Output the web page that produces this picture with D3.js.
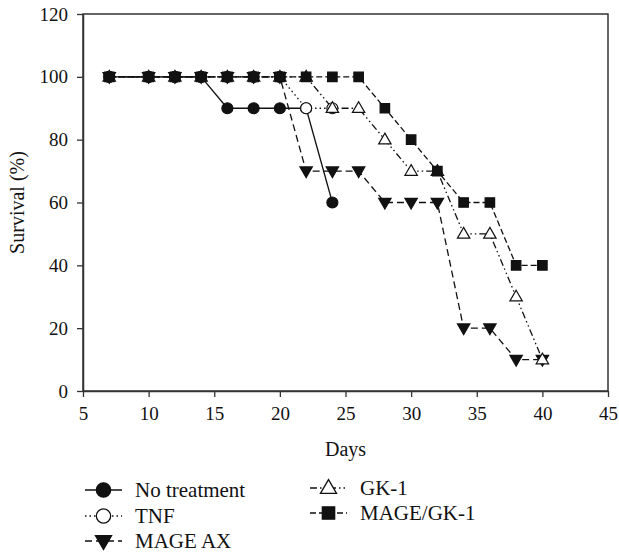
<!DOCTYPE html>
<html>
<head>
<meta charset="utf-8">
<script src="https://cdn.jsdelivr.net/npm/d3@7"></script>
<style>
  body { margin: 0; background: #fff; }
  svg text { font-family: "Liberation Serif", "Times New Roman", "DejaVu Serif", serif !important; fill: #111; }
</style>
</head>
<body>
<svg id="chart" width="619" height="554"></svg>
<script>
// survival data
var days = [7, 10, 12, 14, 16, 18, 20, 22, 24, 26, 28, 30, 32, 34, 36, 38, 40];
var noTreatment = [100, 100, 100, 100, 90, 90, 90, 90, 60];
var tnf = [100, 100, 100, 100, 100, 100, 100, 90, 90];
var mageAx = [100, 100, 100, 100, 100, 100, 100, 70, 70, 70, 60, 60, 60, 20, 20, 10, 10];
var gk1 = [100, 100, 100, 100, 100, 100, 100, 100, 90, 90, 80, 70, 70, 50, 50, 30, 10];
var mageGk1 = [100, 100, 100, 100, 100, 100, 100, 100, 100, 100, 90, 80, 70, 60, 60, 40, 40];
var xTicks = [5, 10, 15, 20, 25, 30, 35, 40, 45];
var yTicks = [0, 20, 40, 60, 80, 100, 120];

var series = [
  {name: "No treatment", values: noTreatment, shape: "circle", fill: "#111", dash: null},
  {name: "TNF", values: tnf, shape: "circle", fill: "#fff", dash: "1.5,3"},
  {name: "MAGE AX", values: mageAx, shape: "tridown", fill: "#111", dash: "7,4"},
  {name: "GK-1", values: gk1, shape: "triup", fill: "#fff", dash: "7,3,1.5,3,1.5,3"},
  {name: "MAGE/GK-1", values: mageGk1, shape: "square", fill: "#111", dash: "6,3"}
];

var serif = "Liberation Serif, Times New Roman, DejaVu Serif, serif";
var svg = d3.select("#chart").attr("font-family", serif);
var pLeft = 83, pRight = 608, pTop = 14, pBottom = 391;

var x = d3.scaleLinear().domain([5, 45]).range([pLeft, pRight]);
var y = d3.scaleLinear().domain([0, 120]).range([pBottom, pTop]);

// frame
svg.append("rect")
  .attr("x", pLeft).attr("y", pTop)
  .attr("width", pRight - pLeft).attr("height", pBottom - pTop)
  .attr("fill", "none").attr("stroke", "#333").attr("stroke-width", 1.5);

var xAxis = svg.append("g")
  .attr("transform", "translate(0," + pBottom + ")")
  .call(d3.axisBottom(x).tickValues(xTicks).tickSize(6).tickPadding(10).tickSizeOuter(0));
var yAxis = svg.append("g")
  .attr("transform", "translate(" + pLeft + ",0)")
  .call(d3.axisLeft(y).tickValues(yTicks).tickSize(6).tickPadding(9).tickSizeOuter(0));

[xAxis, yAxis].forEach(function(a){
  a.attr("font-family", serif).attr("font-size", 19);
  a.select(".domain").attr("stroke", "#333").attr("stroke-width", 1.5);
  a.selectAll(".tick line").attr("stroke", "#333").attr("stroke-width", 1.3);
  a.selectAll(".tick text").attr("fill", "#111");
});

svg.append("text")
  .attr("x", (pLeft + pRight) / 2).attr("y", 456)
  .attr("text-anchor", "middle")
  .attr("font-size", 20)
  .text("Days");

svg.append("text")
  .attr("transform", "translate(24," + ((pTop + pBottom) / 2) + ") rotate(-90)")
  .attr("text-anchor", "middle")
  .attr("font-size", 20)
  .text("Survival (%)");

function markerPath(shape) {
  if (shape == "circle") return d3.symbol().type(d3.symbolCircle).size(95)();
  if (shape == "square") return d3.symbol().type(d3.symbolSquare).size(90)();
  if (shape == "triup") return "M0,-6.5L6.2,4.2L-6.2,4.2Z";
  return "M0,6.5L6.2,-4.2L-6.2,-4.2Z";
}

var line = d3.line()
  .x(function(d, i){ return x(days[i]); })
  .y(function(d){ return y(d); });

// lines first
series.forEach(function(s){
  svg.append("path")
    .datum(s.values)
    .attr("d", line)
    .attr("fill", "none")
    .attr("stroke", "#111")
    .attr("stroke-width", 1.3)
    .attr("stroke-dasharray", s.dash);
});

// then markers
series.forEach(function(s){
  svg.append("g").selectAll("path")
    .data(s.values)
    .enter().append("path")
    .attr("d", markerPath(s.shape))
    .attr("transform", function(d, i){ return "translate(" + x(days[i]) + "," + y(d) + ")"; })
    .attr("fill", s.fill)
    .attr("stroke", "#111")
    .attr("stroke-width", 1.2);
});

// legend
var legendPos = [
  {x: 85, y: 490}, {x: 85, y: 516}, {x: 85, y: 541},
  {x: 310, y: 488}, {x: 310, y: 513}
];
series.forEach(function(s, i){
  var p = legendPos[i];
  var g = svg.append("g").attr("transform", "translate(" + p.x + "," + p.y + ")");
  g.append("line")
    .attr("x1", 0).attr("x2", 37).attr("y1", 0).attr("y2", 0)
    .attr("stroke", "#111").attr("stroke-width", 1.3)
    .attr("stroke-dasharray", s.dash);
  g.append("path")
    .attr("d", markerPath(s.shape))
    .attr("transform", "translate(18.5,0) scale(1.3)")
    .attr("fill", s.fill).attr("stroke", "#111").attr("stroke-width", 1);
  g.append("text")
    .attr("x", 50).attr("y", 7)
    .attr("font-size", 21)
    .text(s.name);
});
</script>
</body>
</html>
